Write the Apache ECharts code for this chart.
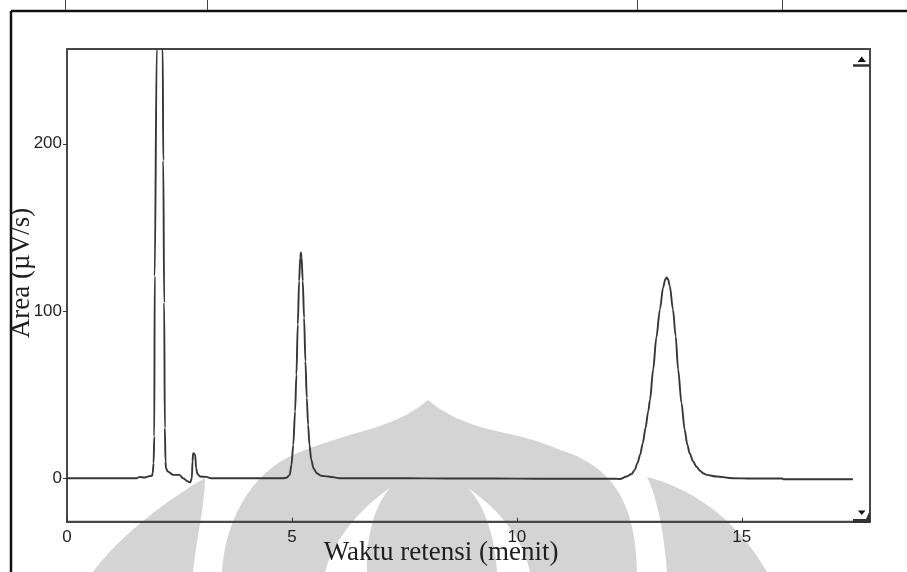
<!DOCTYPE html>
<html>
<head>
<meta charset="utf-8">
<script src="https://cdn.jsdelivr.net/npm/echarts@6/dist/echarts.min.js"></script>
<style>
html,body{margin:0;padding:0;background:#fff;}
#chart{width:907px;height:572px;}
</style>
</head>
<body>
<div id="chart"></div>
<script>
// ---- data (retention time in minutes, signal in µV/s) ----
const xTicks = [0, 5, 10, 15];
const yTicks = [0, 100, 200];
const xTitle = 'Waktu retensi (menit)';
const yTitle = 'Area (µV/s)';

const baselineStart = [[0,0],[0.5,0],[1.0,0],[1.55,0],[1.62,0.8],[1.72,0.4],[1.8,1],[1.89,1.5]];
const peakSolvent = [[1.905,3],[1.925,9],[1.94,25],[1.95,121],[1.995,257],[2.06,800],[2.127,257],
  [2.14,190],[2.16,105],[2.175,30],[2.19,10],[2.2,6],[2.24,4],[2.36,2],[2.5,2],[2.58,0],[2.69,-2],[2.74,-2.5]];
const peakMinor = [[2.775,0],[2.79,10],[2.805,15],[2.85,14],[2.87,6],[2.9,2.5],[2.96,1],[3.1,0.8],[3.2,0]];
const baselineMid = [[3.5,0],[4.0,0],[4.5,0],[4.8,0]];
const peakTwo = [[4.88,0.3],[4.95,2],[4.99,8],[5.03,20],[5.07,40],[5.1,62],[5.13,92],[5.16,118],[5.185,132],
  [5.2,135],[5.215,132],[5.24,118],[5.27,96],[5.3,70],[5.33,48],[5.36,32],[5.39,20],[5.43,11],[5.48,6],
  [5.55,3],[5.65,1.5],[5.8,1],[5.95,0.5],[6.05,0]];
const baselineLate = [[6.5,0],[7.5,0],[8.5,-0.2],[9.5,-0.2],[10.5,-0.3],[11.5,-0.3],[12.2,-0.3]];
const peakThree = [[12.29,-0.5],[12.44,1],[12.55,2.5],[12.62,5],[12.68,9],[12.74,14],[12.8,21],[12.86,30],
  [12.92,40],[12.96,47],[13.03,65],[13.1,84],[13.18,101],[13.25,114],[13.3,119],[13.33,120],[13.36,119],
  [13.4,115],[13.47,101],[13.53,85],[13.585,65],[13.66,45],[13.73,29],[13.79,20],[13.84,15],[13.92,10],
  [13.99,7],[14.07,4.5],[14.14,3],[14.22,2],[14.44,1],[14.8,0]];
const baselineEnd = [[15.2,-0.2],[15.9,-0.2],[15.92,-0.6],[16.5,-0.6],[17.0,-0.6],[17.47,-0.6]];

const trace = [].concat(baselineStart, peakSolvent, peakMinor, baselineMid, peakTwo, baselineLate, peakThree, baselineEnd);

// ---- watermark shapes (decoration) ----
const wmPaths = {
  wmDome: 'M428,400 C444,414 466,424 496,431 C520,436 540,441 560,450 C610,465 636,500 637,572 L222,572 C226,510 260,466 300,452 C320,444 340,438 360,432 C390,424 412,414 428,400 Z',
  wmLeft: 'M205,478 C170,498 120,535 93,572 L193,572 C196,540 205,505 205,478 Z',
  wmRight: 'M647,477 C685,486 735,515 767,572 L667,572 C664,530 656,495 647,477 Z',
  wmCutL: 'M390,488 C365,505 335,535 325,572 L367,572 C366,535 375,505 390,488 Z',
  wmCutR: 'M468,488 C493,505 523,535 530,572 L497,572 C495,535 484,505 468,488 Z'
};
let wmOk = true;
try {
  Object.keys(wmPaths).forEach(function (k) {
    echarts.graphic.registerShape(k, echarts.graphic.extendPath(wmPaths[k]));
  });
} catch (e) { wmOk = false; }

// ---- chart ----
const chart = echarts.init(document.getElementById('chart'), null, {renderer: 'canvas'});
const tickFont = "'Liberation Sans Narrow','Arial Narrow','Liberation Sans',sans-serif";
const serif = "'Liberation Serif','DejaVu Serif','Times New Roman',serif";
const wmGrey = '#d4d4d4';

const wmGraphics = !wmOk ? [] : [
  {type: 'wmDome', z: -2, silent: true, style: {fill: wmGrey}},
  {type: 'wmLeft', z: -2, silent: true, style: {fill: wmGrey}},
  {type: 'wmRight', z: -2, silent: true, style: {fill: wmGrey}},
  {type: 'wmCutL', z: -1, silent: true, style: {fill: '#ffffff'}},
  {type: 'wmCutR', z: -1, silent: true, style: {fill: '#ffffff'}}
];

chart.setOption({
  animation: false,
  backgroundColor: '#ffffff',
  grid: {
    left: 67, top: 49, width: 803, height: 472.7,
    show: true, borderColor: '#474747', borderWidth: 2,
    containLabel: false, outerBoundsMode: 'none'
  },
  xAxis: {
    type: 'value', min: 0, max: 17.85,
    axisLine: {show: true, onZero: false, lineStyle: {color: '#474747', width: 2}},
    axisTick: {show: true, inside: true, length: 4, customValues: xTicks, lineStyle: {color: '#333'}},
    axisLabel: {customValues: xTicks, margin: 7, fontFamily: tickFont, fontSize: 17, color: '#1f1f1f'},
    splitLine: {show: false}
  },
  yAxis: {
    type: 'value', min: -26, max: 256.7,
    axisLine: {show: true, onZero: false, lineStyle: {color: '#474747', width: 2}},
    axisTick: {show: true, inside: false, length: 4, customValues: yTicks, lineStyle: {color: '#333'}},
    axisLabel: {customValues: yTicks, margin: 5, fontFamily: tickFont, fontSize: 17, color: '#1f1f1f'},
    splitLine: {show: false}
  },
  series: [{
    type: 'line',
    data: trace,
    showSymbol: false,
    smooth: 0.3,
    smoothMonotone: 'x',
    clip: true,
    z: 5,
    lineStyle: {color: '#363636', width: 1.9}
  }],
  graphic: wmGraphics.concat([
    // outer frame
    {type: 'line', z: 10, silent: true, shape: {x1: 11, y1: 11, x2: 907, y2: 11}, style: {stroke: '#111', lineWidth: 2.5}},
    {type: 'line', z: 10, silent: true, shape: {x1: 11, y1: 11, x2: 11, y2: 572}, style: {stroke: '#111', lineWidth: 2.5}},
    {type: 'line', z: 10, silent: true, shape: {x1: 65.5, y1: 0, x2: 65.5, y2: 10}, style: {stroke: '#444', lineWidth: 1}},
    {type: 'line', z: 10, silent: true, shape: {x1: 207.5, y1: 0, x2: 207.5, y2: 10}, style: {stroke: '#444', lineWidth: 1}},
    {type: 'line', z: 10, silent: true, shape: {x1: 637.5, y1: 0, x2: 637.5, y2: 10}, style: {stroke: '#444', lineWidth: 1}},
    {type: 'line', z: 10, silent: true, shape: {x1: 782.5, y1: 0, x2: 782.5, y2: 10}, style: {stroke: '#444', lineWidth: 1}},
    // scroll buttons
    {type: 'polygon', z: 10, silent: true, shape: {points: [[857.5,62],[866,62],[861.7,56.5]]}, style: {fill: '#111'}},
    {type: 'line', z: 10, silent: true, shape: {x1: 853, y1: 65.5, x2: 870, y2: 65.5}, style: {stroke: '#333', lineWidth: 2.5}},
    {type: 'polygon', z: 10, silent: true, shape: {points: [[858,510.5],[865.5,510.5],[861.7,515]]}, style: {fill: '#111'}},
    {type: 'polygon', z: 10, silent: true, shape: {points: [[853,519],[866,519],[870,510],[870,523],[853,523]]}, style: {fill: '#333'}},
    // axis titles
    {type: 'text', z: 10, silent: true, x: 22, y: 273, rotation: Math.PI / 2,
      style: {text: yTitle, fontFamily: serif, fontSize: 27, fill: '#1e1e1e', align: 'center', verticalAlign: 'middle'}},
    {type: 'text', z: 10, silent: true, x: 441, y: 553,
      style: {text: xTitle, fontFamily: serif, fontSize: 27, fill: '#1e1e1e', align: 'center', verticalAlign: 'middle'}}
  ])
});
</script>
</body>
</html>
